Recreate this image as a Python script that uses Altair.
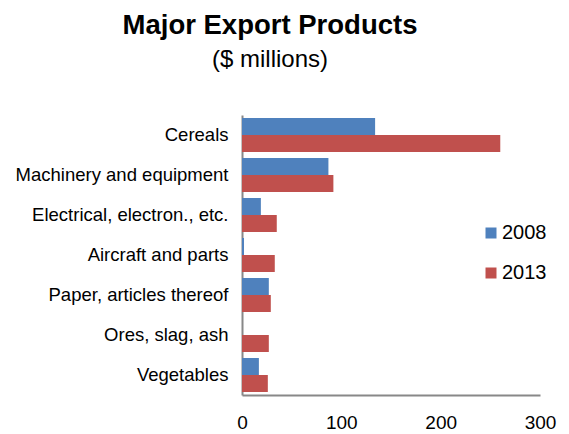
import altair as alt
import pandas as pd

categories = ["Cereals", "Machinery and equipment", "Electrical, electron., etc.",
              "Aircraft and parts", "Paper, articles thereof", "Ores, slag, ash", "Vegetables"]
years = ["2008", "2013"]
values_2008 = [134, 87, 19, 2, 27, 0, 17]
values_2013 = [260, 92, 35, 33, 29, 27, 26]
x_ticks = [0, 100, 200, 300]

rows = []
for c, a, b in zip(categories, values_2008, values_2013):
    rows.append({"category": c, "year": "2008", "value": a})
    rows.append({"category": c, "year": "2013", "value": b})
df = pd.DataFrame(rows)

FONT = "Liberation Sans"

chart = alt.Chart(df).mark_bar().encode(
    y=alt.Y("category:N", sort=categories,
            scale=alt.Scale(paddingInner=0.15, paddingOuter=0.075),
            axis=alt.Axis(title=None, ticks=False, labelFontSize=18.5, labelColor="black",
                          labelFont=FONT, labelPadding=14, domainColor="#888888",
                          domainWidth=2, labelLimit=400)),
    yOffset=alt.YOffset("year:N", sort=years, scale=alt.Scale(paddingInner=0, paddingOuter=0)),
    x=alt.X("value:Q", scale=alt.Scale(domain=[0, 300], nice=False),
            axis=alt.Axis(title=None, values=x_ticks, ticks=False, grid=False,
                          labelFontSize=19, labelColor="black", labelFont=FONT,
                          labelPadding=18, labelFlush=False, domainColor="#888888",
                          domainWidth=2, format="d")),
    color=alt.Color("year:N", sort=years,
                    scale=alt.Scale(domain=years, range=["#4F81BD", "#C0504D"]),
                    legend=alt.Legend(title=None, orient="none", legendX=239, legendY=108,
                                      symbolType="square", symbolSize=121,
                                      symbolStrokeWidth=0, labelFontSize=20,
                                      labelFont=FONT, labelColor="black",
                                      rowPadding=20, labelOffset=1)),
).properties(
    width=298,
    height=280,
    title=alt.TitleParams(
        text="Major Export Products",
        subtitle="($ millions)",
        font=FONT, fontSize=27.5, fontWeight="bold", color="black",
        subtitleFont=FONT, subtitleFontSize=24, subtitleColor="black",
        subtitlePadding=9,
        anchor="middle", dx=-121, offset=43,
    ),
    autosize=alt.AutoSizeParams(type="none"),
    padding={"left": 234, "top": 107, "right": 21, "bottom": 36},
).configure_view(stroke=None)

chart.save("out.html", embed_options={"renderer": "svg", "actions": False})
